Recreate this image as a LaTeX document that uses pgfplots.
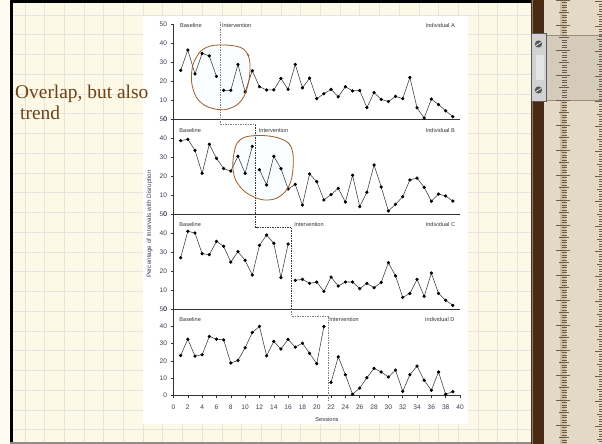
\documentclass[border=0pt]{standalone}
\usepackage{pgfplots}
\pgfplotsset{compat=1.18}
\usepackage{fontspec}
\setmainfont{Liberation Sans}
\newfontfamily\serif{Liberation Serif}
\definecolor{cream}{HTML}{FEF8E7}
\definecolor{gridc}{HTML}{E6E3DE}
\definecolor{browntext}{HTML}{6B4318}
\definecolor{circc}{HTML}{9E5F26}
\definecolor{tickc}{HTML}{3C3C54}
\definecolor{ylabc}{HTML}{4A3766}
\definecolor{linec}{HTML}{3A3A3A}
\definecolor{axc}{HTML}{333333}
\definecolor{rulerc}{HTML}{E4D9C4}
\definecolor{rulerd}{HTML}{CDBFA6}
\definecolor{strip}{HTML}{4A2913}
\definecolor{rtick}{HTML}{6E5C49}

\pgfplotsset{
  panel/.style={scale only axis, width=286.5pt, xmin=0, xmax=40, ymin=0, ymax=50,
    axis x line*=bottom, axis y line*=left, x axis line style={-}, y axis line style={-},
    ytick={0,10,...,50}, xtick=\empty,
    axis line style={draw=axc, line width=0.6pt},
    tick style={draw=axc, line width=0.5pt}, tick align=outside, major tick length=3pt,
    ticklabel style={font=\fontsize{6.6}{7}\selectfont, text=tickc},
    xticklabel style={yshift=-3pt},
    /pgf/number format/assume math mode=true, clip=false},
  dat/.style={draw=linec, line width=0.55pt, mark=*, mark size=1.35pt, mark options={fill=black, draw=black}},
}
\tikzset{plab/.style={anchor=west, font=\fontsize{5.6}{6}\selectfont, text=black!80, inner sep=0pt}}

\begin{document}
\begin{tikzpicture}
\useasboundingbox (0,0) rectangle (602pt,444pt);
\begin{scope}[x=1pt,y=-1pt,shift={(0pt,444pt)}]
  % background paper
  \fill[cream!60!white] (0,0) rectangle (531,444);
  \fill[cream] (12,0) rectangle (531,444);
  \foreach \k in {0,...,25} { \draw[gridc, line width=0.9pt] ({25+19.7*\k},3) -- ({25+19.7*\k},444); }
  \foreach \k in {0,...,21} { \draw[gridc, line width=0.9pt] (12,{15+19.75*\k}) -- (531,{15+19.75*\k}); }
  \fill[black] (10,0) rectangle (12.5,444);
  \fill[black] (10,0) rectangle (531,3);
  \fill[black!45] (10,442) rectangle (531,444);
  % ruler
  \fill[strip] (531,0) rectangle (544,444);
  \draw[strip!60!white, line width=0.6pt] (532,0) -- (532,444);
  \fill[rulerc] (544,0) rectangle (602,444);
  \fill[rulerd] (560,0) rectangle (566,444);
  \fill[rulerc!85!gray] (544,35) rectangle (602,100);
  \draw[rtick!70, line width=0.5pt] (544,35) -- (602,35) (544,100) -- (602,100);
  \foreach \i in {0,...,177} {
    \pgfmathsetmacro\yy{\i*2.5}
    \pgfmathsetmacro\L{mod(\i,10)==0 ? 9 : (mod(\i,5)==0 ? 6 : 3.5)}
    \draw[rtick, line width=0.35pt] ({565-\L},\yy) -- ({565+0.6*\L},\yy);
    \draw[rtick, line width=0.35pt] (602,{\yy+1.2}) -- ({602-0.8*\L},{\yy+1.2});
  }
  \fill[gray!35] (531,33) rectangle (546,101);
  \draw[gray!70!black, line width=0.5pt] (531,33) rectangle (546,101);
  \fill[white!80!gray] (536,55) rectangle (544,80);
  \foreach \sy in {44,90} { \fill[gray!70!black] (538.5,\sy) circle (3.6pt); \draw[white, line width=0.6pt] (536,{\sy+1.5}) -- (541,{\sy-1.5}); }
  % chart area
  \fill[white] (143,16) rectangle (468,424);
  % circle fills
  \fill[cyan!2!white] plot[smooth cycle, tension=0.7] coordinates {(246.7,53.3) (240,47.3) (223.3,45) (206.7,47.3) (196.7,56.7) (191.7,71.7) (193.3,90) (201.7,103.3) (216.7,109.3) (230,108.3) (241.7,100) (248.3,83.3) (250,63.3)};
  \fill[cyan!2!white] plot[smooth cycle, tension=0.7] coordinates {(286.7,141.7) (273.3,136.7) (253.3,135.7) (240,140) (234.3,151.7) (233.3,171.7) (240,186.7) (253.3,196.7) (268.3,200) (281.7,195) (290.7,181.7) (293.3,161.7) (291.7,148.3)};
\end{scope}

% ---------------- Panel A ----------------
\begin{axis}[panel, at={(173.5pt,325pt)}, anchor=south west, height=95pt]
\addplot[dat] coordinates {(1,25.6)(2,36.3)(3,23.7)(4,34.5)(5,33.2)(6,22.4)};
\addplot[dat] coordinates {(7,15.1)(8,15.1)(9,28.7)(10,14.2)(11,25.4)(12,17.0)(13,15.3)(14,15.3)(15,21.3)(16,15.6)(17,28.7)(18,16.4)(19,21.5)(20,10.7)(21,13.3)(22,15.6)(23,11.7)(24,17.0)(25,14.8)(26,15.0)(27,6.0)(28,13.9)(29,10.3)(30,9.2)(31,11.9)(32,10.7)(33,21.9)(34,5.9)(35,0.5)(36,10.5)(37,7.6)(38,4.3)(39,1.2)};
\draw[gray, dash pattern=on 1.5pt off 1pt, line width=0.6pt] (axis cs:6.6,51.2) -- (axis cs:6.6,0);
\node[plab] at (axis cs:0.9,49.4) {Baseline};
\node[plab] at (axis cs:6.75,49.4) {Intervention};
\node[plab] at (axis cs:35.2,49.4) {Individual A};
\end{axis}

% ---------------- Panel B ----------------
\begin{axis}[panel, at={(173.5pt,230pt)}, anchor=south west, height=95pt]
\addplot[dat] coordinates {(1,38.6)(2,39.3)(3,33.5)(4,21.4)(5,36.7)(6,29.3)(7,23.9)(8,22.6)(9,30.4)(10,21.4)(11,35.6)};
\addplot[dat] coordinates {(12,23.3)(13,15.3)(14,30.4)(15,23.9)(16,13.2)(17,15.6)(18,4.7)(19,21.1)(20,17.0)(21,7.4)(22,10.2)(23,13.5)(24,6.3)(25,20.4)(26,3.9)(27,11.4)(28,25.8)(29,14.2)(30,1.6)(31,5.1)(32,9.1)(33,17.9)(34,18.9)(35,14.0)(36,6.7)(37,10.5)(38,9.5)(39,6.8)};
\draw[gray, dash pattern=on 1.5pt off 1pt, line width=0.6pt] (axis cs:6.6,50) -- (axis cs:6.6,47) -- (axis cs:11.45,47);
\draw[black!80, dash pattern=on 1.5pt off 1pt, line width=0.6pt] (axis cs:11.45,47) -- (axis cs:11.45,0);
\node[plab] at (axis cs:0.8,43.8) {Baseline};
\node[plab] at (axis cs:11.9,43.8) {Intervention};
\node[plab] at (axis cs:35.2,43.8) {Individual B};
\end{axis}

% ---------------- Panel C ----------------
\begin{axis}[panel, at={(173.5pt,135pt)}, anchor=south west, height=95pt]
\addplot[dat] coordinates {(1,27.0)(2,40.9)(3,40.0)(4,29.1)(5,28.6)(6,35.6)(7,33.0)(8,24.7)(9,30.2)(10,25.6)(11,17.9)(12,33.5)(13,38.9)(14,34.6)(15,16.5)(16,34.2)};
\addplot[dat] coordinates {(17,15.1)(18,15.6)(19,13.5)(20,14.2)(21,9.3)(22,16.8)(23,12.1)(24,14.2)(25,14.2)(26,10.7)(27,13.5)(28,11.2)(29,14.0)(30,24.4)(31,17.4)(32,6.1)(33,8.2)(34,15.6)(35,6.7)(36,18.9)(37,8.2)(38,4.6)(39,1.9)};
\draw[black!80, dash pattern=on 1.5pt off 1pt, line width=0.6pt] (axis cs:11.45,50) -- (axis cs:11.45,43) -- (axis cs:16.5,43) -- (axis cs:16.5,0);
\node[plab] at (axis cs:0.8,44.4) {Baseline};
\node[plab] at (axis cs:16.85,44.4) {Intervention};
\node[plab] at (axis cs:35.2,44.4) {Individual C};
\end{axis}

% ---------------- Panel D ----------------
\begin{axis}[panel, at={(173.5pt,48.7pt)}, anchor=south west, height=86.3pt,
  xtick={0,2,...,40}]
\addplot[dat] coordinates {(1,23.1)(2,32.5)(3,22.7)(4,23.5)(5,34.1)(6,32.5)(7,32.1)(8,18.7)(9,20.2)(10,27.5)(11,36.4)(12,39.9)(13,22.9)(14,31.2)(15,26.8)(16,32.4)(17,27.9)(18,30.2)(19,24.3)(20,18.3)(21,39.9)};
\addplot[dat] coordinates {(22,7.5)(23,22.3)(24,11.9)(25,0.6)(26,4.2)(27,10.2)(28,15.6)(29,13.5)(30,10.6)(31,14.6)(32,2.3)(33,11.9)(34,16.9)(35,8.7)(36,2.9)(37,13.5)(38,0.6)(39,2.1)};
\draw[gray, dash pattern=on 1.5pt off 1pt, line width=0.6pt] (axis cs:16.5,50) -- (axis cs:16.5,46) -- (axis cs:21.65,46) -- (axis cs:21.65,-3.3);
\node[plab] at (axis cs:0.8,43.7) {Baseline};
\node[plab] at (axis cs:21.75,43.7) {Intervention};
\node[plab] at (axis cs:35.1,43.7) {Individual D};
\end{axis}

\begin{scope}[x=1pt,y=-1pt,shift={(0pt,444pt)}]
  % circle strokes
  \draw[circc, line width=0.8pt] plot[smooth, tension=0.7] coordinates {(249,56) (246.5,52.5) (240,47.3) (223.3,45) (206.7,47.3) (196.7,56.7) (191.7,71.7) (193.3,90) (201.7,103.3) (216.7,109.3) (230,108.3) (241.7,100) (248.3,83.3) (250,63.3) (247,54)};
  \draw[circc, line width=0.8pt] plot[smooth, tension=0.7] coordinates {(290,146) (286.7,141.7) (273.3,136.7) (253.3,135.7) (240,140) (234.3,151.7) (233.3,171.7) (240,186.7) (253.3,196.7) (268.3,200) (281.7,195) (290.7,181.7) (293.3,161.7) (291.7,148.3) (287.5,142.5)};
  % texts
  \node[rotate=90, font=\fontsize{6.3}{7}\selectfont, text=ylabc, inner sep=0pt] at (149.5,224) {Percentage of Intervals with Disruption};
  \node[font=\fontsize{5.7}{6}\selectfont, text=black!80, inner sep=0pt] at (327,419) {Sessions};
  \node[anchor=base west, font=\serif\fontsize{19.4}{22}\selectfont, text=browntext, inner sep=0pt] at (15,98.3) {Overlap, but also};
  \node[anchor=base west, font=\serif\fontsize{19.4}{22}\selectfont, text=browntext, inner sep=0pt] at (20,119.5) {trend};
\end{scope}
\end{tikzpicture}
\end{document}
